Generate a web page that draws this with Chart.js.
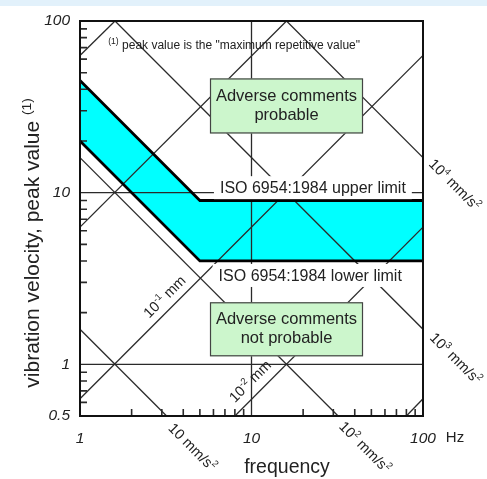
<!DOCTYPE html>
<html>
<head>
<meta charset="utf-8">
<script src="https://cdn.jsdelivr.net/npm/chart.js@4.4.0/dist/chart.umd.min.js"></script>
<style>
  html, body { margin: 0; padding: 0; background: #fff; }
  #wrap { width: 487px; height: 479px; position: relative; }
</style>
</head>
<body>
<div id="wrap"><canvas id="myChart"></canvas></div>
<script>
// ISO 6954:1984 limits, frequency in Hz, velocity in mm/s
const limitFreq = [1, 5, 100];
const upperVel = [45, 9, 9];
const lowerVel = [20, 4, 4];

// constant acceleration lines (mm/s²), end points
const accelFreq = [[1, 3.2], [1, 32], [1.6, 100], [16, 100]];
const accelVel = [[1.6, 0.5], [16, 0.5], [100, 1.6], [100, 16]];

// constant displacement lines (mm)
const dispFreq = [[80, 100], [8, 100], [1, 100], [1, 16], [1, 1.6]];
const dispVel = [[0.5, 0.63], [0.5, 6.3], [0.63, 63], [6.3, 100], [63, 100]];

const xTicks = [1, 10, 100];
const yTicks = [0.5, 1, 10, 100];
const xGrid = [10];
const yGrid = [1, 10];
const xMinor = [2, 3, 4, 5, 6, 7, 8, 9, 20, 30, 40, 50, 60, 70, 80, 90];
const yMinor = [0.6, 0.7, 0.8, 0.9, 2, 3, 4, 5, 6, 7, 8, 9, 20, 30, 40, 50, 60, 70, 80, 90];

const FONT = "'Liberation Sans', Arial, sans-serif";
const INK = '#222';

const toPts = (xs, ys) => xs.map((x, i) => ({ x: x, y: ys[i] }));

const thin = (xs, ys) => ({
    data: toPts(xs, ys),
    borderColor: '#2a2a2a',
    borderWidth: 1.3,
    pointRadius: 0,
    fill: false,
    tension: 0
});

const datasets = [
    {
        label: 'upper limit',
        data: toPts(limitFreq, upperVel),
        borderColor: '#000',
        borderWidth: 2.8,
        backgroundColor: '#00ffff',
        fill: '+1',
        pointRadius: 0,
        tension: 0
    },
    {
        label: 'lower limit',
        data: toPts(limitFreq, lowerVel),
        borderColor: '#000',
        borderWidth: 2.8,
        fill: false,
        pointRadius: 0,
        tension: 0
    }
];
accelFreq.forEach((f, i) => datasets.push(thin(f, accelVel[i])));
dispFreq.forEach((f, i) => datasets.push(thin(f, dispVel[i])));

// draw text made of normal and superscript parts, centred on (x, y)
function richText(ctx, parts, x, y, angle, size, align, supRatio) {
    const sr = supRatio || 0.65;
    ctx.save();
    ctx.translate(x, y);
    ctx.rotate(angle);
    ctx.textBaseline = 'alphabetic';
    ctx.textAlign = 'left';
    let w = 0;
    parts.forEach(p => {
        ctx.font = (p[1] ? size * sr : size) + 'px ' + FONT;
        w += ctx.measureText(p[0]).width;
    });
    let cx = align === 'left' ? 0 : -w / 2;
    parts.forEach(p => {
        ctx.font = (p[1] ? size * sr : size) + 'px ' + FONT;
        ctx.fillText(p[0], cx, p[1] ? size * 0.35 - size * 0.42 : size * 0.35);
        cx += ctx.measureText(p[0]).width;
    });
    ctx.restore();
}

function box(ctx, cx, cy, w, h, lines) {
    ctx.fillStyle = '#ccf6cc';
    ctx.fillRect(cx - w / 2, cy - h / 2, w, h);
    ctx.strokeStyle = '#444';
    ctx.lineWidth = 1.2;
    ctx.strokeRect(cx - w / 2 + 0.5, cy - h / 2 + 0.5, w - 1, h - 1);
    ctx.fillStyle = INK;
    ctx.font = '16.5px ' + FONT;
    ctx.textAlign = 'center';
    ctx.textBaseline = 'middle';
    ctx.fillText(lines[0], cx, cy - 9.5);
    ctx.fillText(lines[1], cx, cy + 9.5);
}

function isoLabel(ctx, text, cx, baseY) {
    ctx.font = '16px ' + FONT;
    const w = ctx.measureText(text).width;
    ctx.fillStyle = '#fff';
    ctx.fillRect(cx - w / 2 - 6, baseY - 17, w + 12, 23);
    ctx.fillStyle = INK;
    ctx.textAlign = 'center';
    ctx.textBaseline = 'alphabetic';
    ctx.fillText(text, cx, baseY);
}

const isoPlugin = {
    id: 'isoChart',
    beforeDraw(chart) {
        const ctx = chart.ctx;
        ctx.save();
        ctx.fillStyle = '#e2f1fb';
        ctx.fillRect(0, 0, chart.width, 6);
        ctx.restore();
    },
    beforeDatasetsDraw(chart) {
        const ctx = chart.ctx, a = chart.chartArea;
        const xs = chart.scales.x, ys = chart.scales.y;
        ctx.save();
        ctx.strokeStyle = '#2a2a2a';
        ctx.lineWidth = 1.3;
        ctx.beginPath();
        xGrid.forEach(v => { const px = xs.getPixelForValue(v); ctx.moveTo(px, a.top); ctx.lineTo(px, a.bottom); });
        yGrid.forEach(v => { const py = ys.getPixelForValue(v); ctx.moveTo(a.left, py); ctx.lineTo(a.right, py); });
        ctx.stroke();
        ctx.lineWidth = 1.6;
        ctx.beginPath();
        xMinor.forEach(v => { const px = xs.getPixelForValue(v); ctx.moveTo(px, a.bottom); ctx.lineTo(px, a.bottom - 7); });
        yMinor.forEach(v => { const py = ys.getPixelForValue(v); ctx.moveTo(a.left, py); ctx.lineTo(a.left + 7, py); });
        ctx.stroke();
        ctx.restore();
    },
    afterDatasetsDraw(chart) {
        const ctx = chart.ctx, a = chart.chartArea;
        const xs = chart.scales.x, ys = chart.scales.y;
        const P = (f, v) => [xs.getPixelForValue(f), ys.getPixelForValue(v)];
        ctx.save();

        // frame
        ctx.strokeStyle = '#111';
        ctx.lineWidth = 2;
        ctx.strokeRect(a.left, a.top, a.right - a.left, a.bottom - a.top);

        // limit labels
        const up = P(22.8, 10);
        isoLabel(ctx, 'ISO 6954:1984 upper limit', up[0], up[1] + 0.5);
        const lo = P(22, 4);
        isoLabel(ctx, 'ISO 6954:1984 lower limit', lo[0], lo[1] + 20);

        // boxes
        const b1 = P(16, 32);
        box(ctx, b1[0], b1[1], 153, 55, ['Adverse comments', 'probable']);
        const b2 = P(16, 1.6);
        box(ctx, b2[0], b2[1], 153, 54, ['Adverse comments', 'not probable']);

        ctx.fillStyle = INK;
        // footnote
        const fn = P(1.46, 70);
        richText(ctx, [['(1)', true], [' peak value is the "maximum repetitive value"', false]], fn[0], fn[1] - 3, 0, 12, 'left', 0.72);

        // acceleration labels, continuing the lines past the frame
        const d45 = Math.PI / 4;
        const a10 = P(accelFreq[0][1], accelVel[0][1]);
        richText(ctx, [['10 mm/s', false], ['2', true]], a10[0] + 26, a10[1] + 31, d45, 14.5);
        const a100 = P(accelFreq[1][1], accelVel[1][1]);
        richText(ctx, [['10', false], ['2', true], [' mm/s', false], ['2', true]], a100[0] + 27, a100[1] + 31, d45, 14.5);
        const a1000 = P(accelFreq[2][1], accelVel[2][1]);
        richText(ctx, [['10', false], ['3', true], [' mm/s', false], ['2', true]], a1000[0] + 33, a1000[1] + 29, d45, 14.5);
        const a10000 = P(accelFreq[3][1], accelVel[3][1]);
        richText(ctx, [['10', false], ['4', true], [' mm/s', false], ['2', true]], a10000[0] + 32, a10000[1] + 27, d45, 14.5);

        // displacement labels, above the lines
        const d1 = P(3.5, 2.2);
        richText(ctx, [['10', false], ['-1', true], [' mm', false]], d1[0] - 9, d1[1] - 9, -d45, 14.5);
        const d2 = P(11.2, 0.7);
        richText(ctx, [['10', false], ['-2', true], [' mm', false]], d2[0] - 10, d2[1] - 10, -d45, 14.5);

        // axis titles
        richText(ctx, [['frequency', false]], a.left + 207, a.bottom + 50, 0, 19.5);
        richText(ctx, [['Hz', false]], a.right + 32, a.bottom + 21, 0, 15);
        richText(ctx, [['vibration velocity, peak value ', false], ['(1)', true]], 32, 243, -Math.PI / 2, 21);

        ctx.restore();
    }
};

const ctx = document.getElementById('myChart').getContext('2d');

window.isoChart = new Chart(ctx, {
    type: 'line',
    data: { datasets: datasets },
    options: {
        responsive: true,
        maintainAspectRatio: false,
        animation: false,
        layout: { padding: { top: 21, right: 64, left: 0, bottom: 0 } },
        plugins: {
            legend: { display: false },
            tooltip: { enabled: false },
            filler: { drawTime: 'beforeDatasetsDraw' }
        },
        scales: {
            x: {
                type: 'logarithmic',
                min: 1,
                max: 100,
                grid: { display: false },
                border: { display: false },
                ticks: {
                    color: INK,
                    font: { family: FONT, size: 15.5, style: 'italic' },
                    padding: 5,
                    maxRotation: 0,
                    autoSkip: false,
                    callback: v => String(v)
                },
                afterBuildTicks: s => { s.ticks = xTicks.map(v => ({ value: v })); },
                afterFit: s => { s.height = 63; }
            },
            y: {
                type: 'logarithmic',
                min: 0.5,
                max: 100,
                grid: { display: false },
                border: { display: false },
                ticks: {
                    color: INK,
                    font: { family: FONT, size: 15.5, style: 'italic' },
                    padding: 2,
                    autoSkip: false,
                    callback: v => String(v)
                },
                afterBuildTicks: s => { s.ticks = yTicks.map(v => ({ value: v })); },
                afterFit: s => { s.width = 80; }
            }
        }
    },
    plugins: [isoPlugin]
});
</script>
</body>
</html>
